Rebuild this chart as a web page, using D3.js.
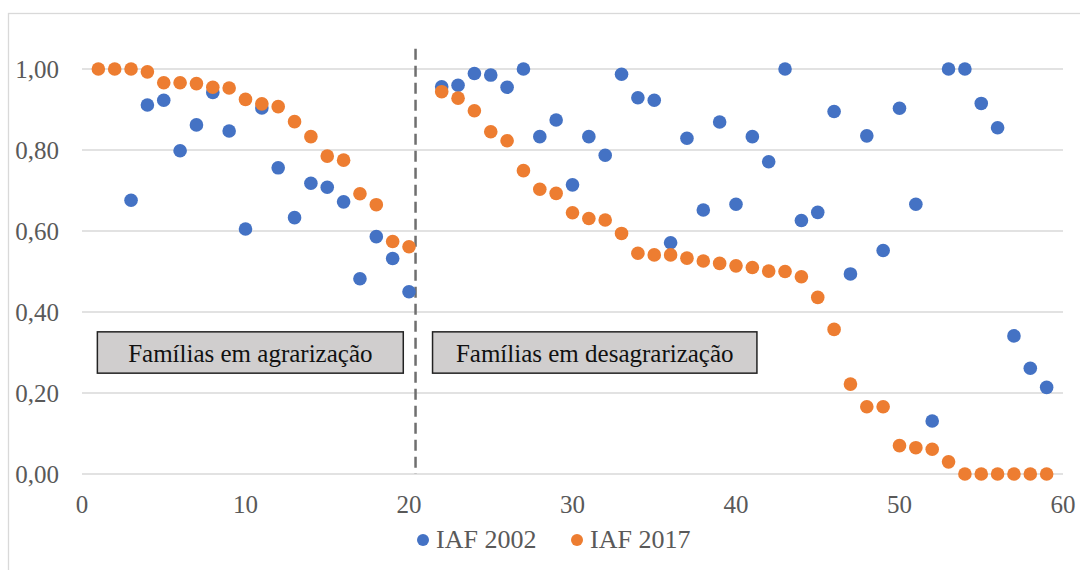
<!DOCTYPE html>
<html>
<head>
<meta charset="utf-8">
<script src="https://cdn.jsdelivr.net/npm/d3@7"></script>
<style>
  body { margin: 0; background: #fff; }
  svg { display: block; }
</style>
</head>
<body>
<svg id="chart" width="1080" height="570"></svg>
<script>
// family index on x, IAF on y
const x2002 = [3, 4, 5, 6, 7, 8, 9, 10, 11, 12, 13, 14, 15, 16, 17, 18, 19, 20,
  22, 23, 24, 25, 26, 27, 28, 29, 30, 31, 32, 33, 34, 35, 36, 37, 38, 39, 40,
  41, 42, 43, 44, 45, 46, 47, 48, 49, 50, 51, 52, 53, 54, 55, 56, 57, 58, 59];
const iaf2002 = [0.676, 0.911, 0.923, 0.798, 0.862, 0.942, 0.847, 0.605, 0.904, 0.756,
  0.633, 0.718, 0.708, 0.672, 0.482, 0.586, 0.532, 0.450,
  0.956, 0.960, 0.989, 0.985, 0.955, 1.000, 0.833, 0.874, 0.714, 0.833, 0.787,
  0.987, 0.929, 0.923, 0.571, 0.829, 0.652, 0.869, 0.666, 0.833, 0.771, 1.000,
  0.626, 0.646, 0.895, 0.494, 0.835, 0.552, 0.903, 0.666, 0.131, 1.000, 1.000,
  0.915, 0.855, 0.341, 0.261, 0.214];

const x2017 = [1, 2, 3, 4, 5, 6, 7, 8, 9, 10, 11, 12, 13, 14, 15, 16, 17, 18, 19, 20,
  22, 23, 24, 25, 26, 27, 28, 29, 30, 31, 32, 33, 34, 35, 36, 37, 38, 39, 40,
  41, 42, 43, 44, 45, 46, 47, 48, 49, 50, 51, 52, 53, 54, 55, 56, 57, 58, 59];
const iaf2017 = [1.000, 1.000, 1.000, 0.993, 0.966, 0.966, 0.964, 0.955, 0.953, 0.925,
  0.914, 0.907, 0.870, 0.833, 0.785, 0.775, 0.692, 0.665, 0.574, 0.561,
  0.944, 0.928, 0.897, 0.845, 0.823, 0.749, 0.703, 0.693, 0.645, 0.631, 0.627,
  0.594, 0.545, 0.541, 0.541, 0.533, 0.526, 0.520, 0.514, 0.510, 0.501, 0.500,
  0.487, 0.436, 0.357, 0.222, 0.166, 0.166, 0.070, 0.065, 0.061, 0.030,
  0, 0, 0, 0, 0, 0];

const xTicks = [0, 10, 20, 30, 40, 50, 60];
const yTicks = [0, 0.2, 0.4, 0.6, 0.8, 1.0];
const seriesNames = ['IAF 2002', 'IAF 2017'];
const colors = ['#4472C4', '#ED7D31'];
const splitAt = 20.4;
const boxes = [
  { label: 'Famílias em agrarização', x0: 0.94, x1: 19.65 },
  { label: 'Famílias em desagrarização', x0: 21.44, x1: 41.28 }
];
const boxTop = 0.351, boxBottom = 0.249;

const serif = "'Liberation Serif', 'Times New Roman', Tinos, 'DejaVu Serif', serif";

const svg = d3.select('#chart');
const x = d3.scaleLinear().domain([0, 60]).range([82, 1063]);
const y = d3.scaleLinear().domain([0, 1]).range([474, 69]);

// outer border of chart area
svg.append('rect')
  .attr('x', 8.5).attr('y', 13.5)
  .attr('width', 1100).attr('height', 600)
  .attr('fill', '#fff')
  .attr('stroke', '#d9d9d9')
  .attr('stroke-width', 1.3);

// gridlines
svg.append('g').selectAll('line').data(yTicks).enter()
  .append('line')
  .attr('x1', x(0)).attr('x2', x(60))
  .attr('y1', (d) => y(d)).attr('y2', (d) => y(d))
  .attr('stroke', '#d9d9d9')
  .attr('stroke-width', 1.3);

const fmt = d3.format('.2f');
svg.append('g').selectAll('text').data(yTicks).enter()
  .append('text')
  .attr('x', 59)
  .attr('y', (d) => y(d) + 9)
  .attr('text-anchor', 'end')
  .attr('font-family', serif)
  .attr('font-size', 25)
  .attr('fill', '#595959')
  .text((d) => fmt(d).replace('.', ','));

svg.append('g').selectAll('text').data(xTicks).enter()
  .append('text')
  .attr('x', (d) => x(d))
  .attr('y', 513)
  .attr('text-anchor', 'middle')
  .attr('font-family', serif)
  .attr('font-size', 25)
  .attr('fill', '#595959')
  .text((d) => d);

// split line
svg.append('line')
  .attr('x1', x(splitAt)).attr('x2', x(splitAt))
  .attr('y1', y(1.05)).attr('y2', y(0))
  .attr('stroke', '#6f6f6f')
  .attr('stroke-width', 2.5)
  .attr('stroke-dasharray', '11,6');

// text boxes
const boxG = svg.append('g').selectAll('g').data(boxes).enter().append('g');
boxG.append('rect')
  .attr('x', (d) => x(d.x0))
  .attr('y', y(boxTop))
  .attr('width', (d) => x(d.x1) - x(d.x0))
  .attr('height', y(boxBottom) - y(boxTop))
  .attr('fill', '#d0cece')
  .attr('stroke', '#222')
  .attr('stroke-width', 1.5);
boxG.append('text')
  .attr('x', (d) => (x(d.x0) + x(d.x1)) / 2)
  .attr('y', y(boxBottom) - 11)
  .attr('text-anchor', 'middle')
  .attr('font-family', serif)
  .attr('font-size', 25)
  .attr('fill', '#111')
  .text((d) => d.label);

// points
const series = [
  { name: seriesNames[0], xs: x2002, ys: iaf2002, color: colors[0] },
  { name: seriesNames[1], xs: x2017, ys: iaf2017, color: colors[1] }
];
series.forEach((s) => {
  svg.append('g').selectAll('circle').data(s.xs).enter()
    .append('circle')
    .attr('cx', (d) => x(d))
    .attr('cy', (d, i) => y(s.ys[i]))
    .attr('r', 6.8)
    .attr('fill', s.color);
});

// legend
const legendX = [423, 577];
const leg = svg.append('g').selectAll('g').data(series).enter().append('g');
leg.append('circle')
  .attr('cx', (d, i) => legendX[i])
  .attr('cy', 540)
  .attr('r', 6)
  .attr('fill', (d) => d.color);
leg.append('text')
  .attr('x', (d, i) => legendX[i] + 13)
  .attr('y', 548)
  .attr('font-family', serif)
  .attr('font-size', 26)
  .attr('fill', '#595959')
  .text((d) => d.name);
</script>
</body>
</html>
